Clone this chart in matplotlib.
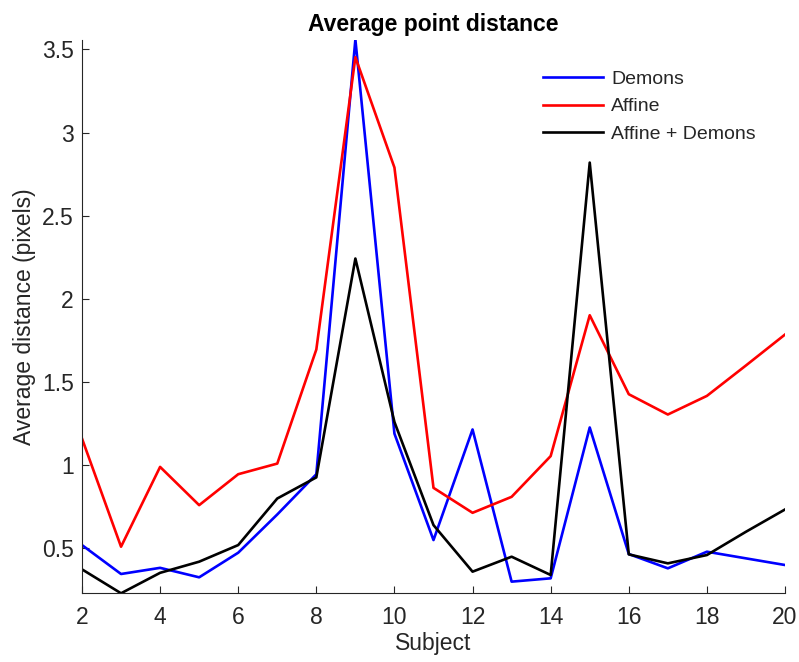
import matplotlib.pyplot as plt

plt.rcParams["font.family"] = ["Liberation Sans", "DejaVu Sans"]

# =========================
# DADOS
# =========================

subjects = list(range(2, 21))

demons = [0.52, 0.346, 0.383, 0.326, 0.474, 0.704, 0.946, 3.56, 1.19, 0.55,
          1.215, 0.30, 0.32, 1.227, 0.466, 0.38, 0.48, 0.44, 0.40]

affine = [1.161, 0.51, 0.99, 0.76, 0.946, 1.01, 1.696, 3.454, 2.79, 0.864,
          0.714, 0.81, 1.055, 1.902, 1.427, 1.305, 1.417, 1.60, 1.786]

affine_demons = [0.374, 0.23, 0.353, 0.42, 0.52, 0.80, 0.927, 2.243, 1.26, 0.64,
                 0.36, 0.45, 0.34, 2.82, 0.464, 0.41, 0.46, 0.60, 0.734]

x_ticks = [2, 4, 6, 8, 10, 12, 14, 16, 18, 20]
y_ticks = [0.5, 1, 1.5, 2, 2.5, 3, 3.5]

# =========================
# GRÁFICO
# =========================

cinza = (0.15, 0.15, 0.15)

fig = plt.figure(figsize=(7.99, 6.62), dpi=100)
ax = fig.add_axes([0.1026, 0.1038, 0.8799, 0.8365])

ax.plot(subjects, demons, color="blue", lw=1.9, label="Demons")
ax.plot(subjects, affine, color="red", lw=1.9, label="Affine")
ax.plot(subjects, affine_demons, color="black", lw=1.9, label="Affine + Demons")

todos = demons + affine + affine_demons
ax.set_xlim(min(subjects), max(subjects))
ax.set_ylim(min(todos), max(todos))

ax.set_xticks(x_ticks)
ax.set_yticks(y_ticks)
ax.set_yticklabels(["0.5", "1", "1.5", "2", "2.5", "3", "3.5"])

for lado in ["top", "right"]:
    ax.spines[lado].set_visible(False)
for lado in ["left", "bottom"]:
    ax.spines[lado].set_color(cinza)
    ax.spines[lado].set_linewidth(0.8)

ax.tick_params(direction="in", length=5, width=0.8, colors=cinza,
               labelsize=16.5)
ax.tick_params(axis="x", pad=9)
ax.tick_params(axis="y", pad=6)

ax.set_title("Average point distance", fontsize=16.5, fontweight="bold", pad=6)
ax.set_xlabel("Subject", fontsize=16.5, color=cinza, labelpad=2)
ax.set_ylabel("Average distance (pixels)", fontsize=16.5, color=cinza, labelpad=4)

leg = ax.legend(loc="upper left", bbox_to_anchor=(543 / 799, 1 - 70 / 662),
                bbox_transform=fig.transFigure, frameon=False, fontsize=14,
                handlelength=3.1, handletextpad=0.4, labelspacing=0.52,
                borderpad=0, borderaxespad=0)
for t in leg.get_texts():
    t.set_color(cinza)

plt.savefig("out.png", dpi=100)
plt.close()
